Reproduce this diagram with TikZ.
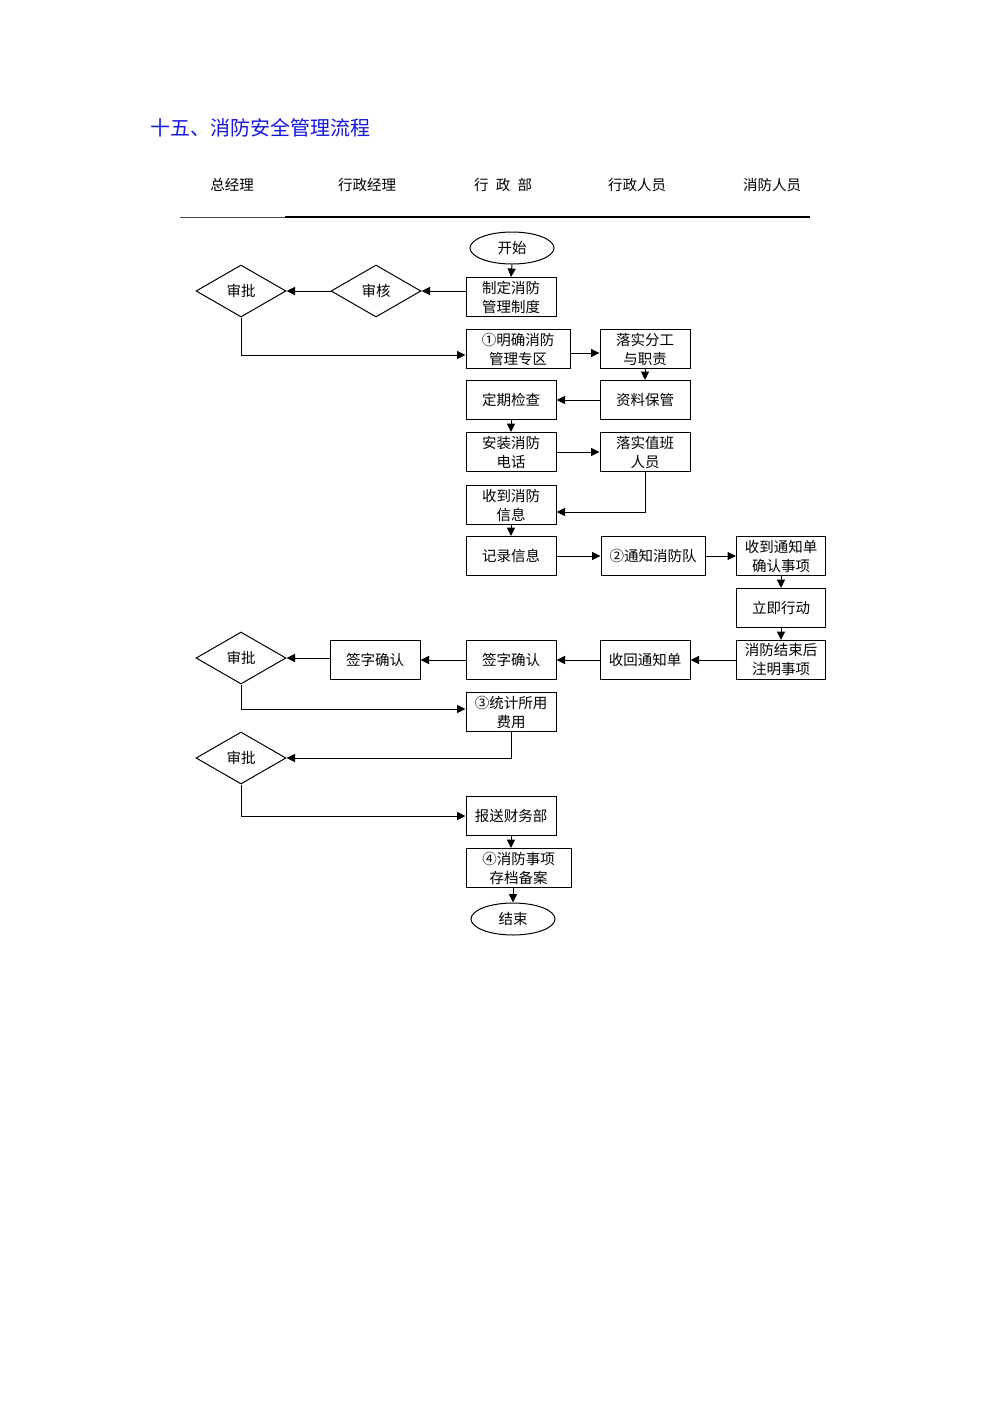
\documentclass[tikz,border=0pt]{standalone}
\usepackage{fontspec}
\newfontfamily\cjk{Noto Sans CJK SC}
\usetikzlibrary{shapes.geometric,arrows.meta}
\definecolor{titleblue}{RGB}{20,20,225}
\begin{document}
\begin{tikzpicture}[x=1pt,y=-1pt,
  every node/.style={font=\cjk\fontsize{14.5}{19}\selectfont},
  box/.style={draw,line width=1pt,minimum width=90pt,minimum height=39pt,inner sep=0pt,align=center},
  wbox/.style={box,minimum width=104pt},
  dia/.style={draw,diamond,line width=1pt,minimum width=90pt,minimum height=52pt,inner sep=0pt,aspect=1.73},
  oval/.style={draw,ellipse,line width=1pt,minimum width=84pt,minimum height=32pt,inner sep=0pt},
  hdr/.style={font=\cjk\fontsize{14.5}{16}\selectfont},
  arr/.style={line width=1pt,-{Triangle[length=8.5pt,width=8pt]}}]
\useasboundingbox (0,0) rectangle (992,1403);
% title
\node[anchor=west,text=titleblue,font=\cjk\fontsize{20}{24}\selectfont,inner sep=0pt] (title) at (150,128) {十五、消防安全管理流程};
% headers
\node[hdr] (h1) at (232,185) {总经理};
\node[hdr] (h2) at (367,185) {行政经理};
\node[hdr] (h3) at (503,185) {行\hspace{0.5em}政\hspace{0.5em}部};
\node[hdr] (h4) at (637,185) {行政人员};
\node[hdr] (h5) at (772,185) {消防人员};
\coordinate (l1) at (180,217);
\coordinate (l2) at (285,217);
\coordinate (l3) at (810,217);
\draw[line width=0.6pt,black!70] (l1) -- (l2);
\draw[line width=1.2pt] (l2) -- (l3);
% nodes
\node[oval] (start) at (512,248) {开始};
\node[box] (zd) at (511,297) {制定消防\\管理制度};
\node[dia] (sh) at (376,291) {审核};
\node[dia] (sp1) at (241,291) {审批};
\node[wbox] (mq) at (518,349) {①明确消防\\管理专区};
\node[box] (lsfg) at (645,349) {落实分工\\与职责};
\node[box] (zlbg) at (645,400) {资料保管};
\node[box] (dqjc) at (511,400) {定期检查};
\node[box] (az) at (511,452) {安装消防\\电话};
\node[box] (lszb) at (645,452) {落实值班\\人员};
\node[box] (sd) at (511,505) {收到消防\\信息};
\node[box] (jl) at (511,556) {记录信息};
\node[wbox] (tz) at (653,556) {②通知消防队};
\node[box,minimum width=89pt] (sdtz) at (781,556) {收到通知单\\确认事项};
\node[box,minimum width=89pt] (ljxd) at (781,608) {立即行动};
\node[box,minimum width=89pt] (xfjs) at (781,660) {消防结束后\\注明事项};
\node[box] (hs) at (645,660) {收回通知单};
\node[box] (qz2) at (511,660) {签字确认};
\node[box] (qz1) at (375,660) {签字确认};
\node[dia] (sp2) at (241,658) {审批};
\node[box] (tj) at (511,712) {③统计所用\\费用};
\node[dia] (sp3) at (241,758) {审批};
\node[box] (bs) at (511,816) {报送财务部};
\node[wbox,minimum width=105pt] (cd) at (518.5,868) {④消防事项\\存档备案};
\node[oval] (js) at (513,919) {结束};
% connectors
\draw[arr] (start.south) -- (zd.north);
\draw[arr] (sh.east -| zd.west) -- (sh.east);
\draw[arr] (sh.west) -- (sp1.east);
\draw[arr] (sp1.south) |- ([yshift=-6pt]mq.west);
\draw[arr] ([yshift=-4pt]mq.east) -- ([yshift=-4pt]lsfg.west);
\draw[arr] (lsfg.south) -- (zlbg.north);
\draw[arr] (zlbg.west) -- (dqjc.east);
\draw[arr] (dqjc.south) -- (az.north);
\draw[arr] (az.east) -- (lszb.west);
\draw[arr] (lszb.south) |- ([yshift=-7pt]sd.east);
\draw[arr] (sd.south) -- (jl.north);
\draw[arr] (jl.east) -- (tz.west);
\draw[arr] (tz.east) -- (sdtz.west);
\draw[arr] (sdtz.south) -- (ljxd.north);
\draw[arr] (ljxd.south) -- (xfjs.north);
\draw[arr] (xfjs.west) -- (hs.east);
\draw[arr] (hs.west) -- (qz2.east);
\draw[arr] (qz2.west) -- (qz1.east);
\draw[arr] (sp2.east -| qz1.west) -- (sp2.east);
\draw[arr] (sp2.south) |- ([yshift=3pt]tj.west);
\draw[arr] (tj.south) |- (sp3.east);
\draw[arr] (sp3.south) |- (bs.west);
\draw[arr] (bs.south) -- (bs.south |- cd.north);
\draw[arr] (js.north |- cd.south) -- (js.north);
\end{tikzpicture}
\end{document}
